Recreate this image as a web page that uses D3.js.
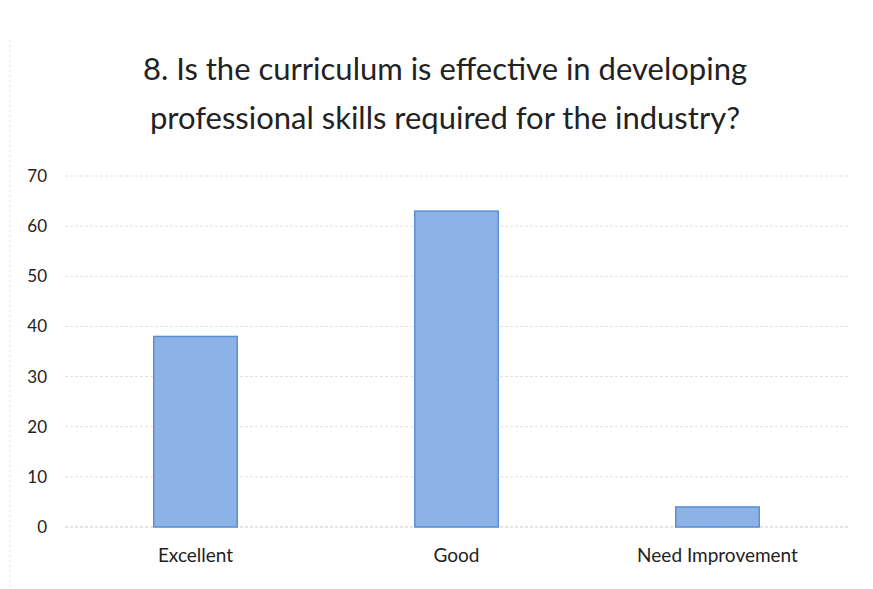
<!DOCTYPE html>
<html>
<head>
<meta charset="utf-8">
<script src="https://cdn.jsdelivr.net/npm/d3@7"></script>
<style>
  body { margin: 0; background: #fff; }
  text { font-family: Lato, "Open Sans", sans-serif; fill: #222; }
</style>
</head>
<body>
<div id="chart"></div>
<script>
// data
var categories = ["Excellent", "Good", "Need Improvement"];
var values = [38, 63, 4];
var yTicks = [0, 10, 20, 30, 40, 50, 60, 70];
var titleLines = ["8. Is the curriculum is effective in developing",
                  "professional skills required for the industry?"];

var width = 873, height = 589;
var margin = {top: 176, right: 25, bottom: 62, left: 65};

var svg = d3.select("#chart").append("svg")
    .attr("width", width)
    .attr("height", height);

// faint page edge on the left like the scan
svg.append("line")
    .attr("x1", 10).attr("x2", 10).attr("y1", 40).attr("y2", 589)
    .attr("stroke", "#eedede").attr("stroke-dasharray", "2,3");

var x = d3.scaleBand()
    .domain(categories)
    .range([margin.left, width - margin.right])
    .paddingInner(0.68)
    .paddingOuter(0.34);

var y = d3.scaleLinear()
    .domain([0, 70])
    .range([height - margin.bottom, margin.top]);

// gridlines
svg.append("g")
    .selectAll("line")
    .data(yTicks)
    .enter()
    .append("line")
    .attr("x1", margin.left)
    .attr("x2", width - margin.right)
    .attr("y1", function (d) { return y(d); })
    .attr("y2", function (d) { return y(d); })
    .attr("stroke", function (d) { return d == 0 ? "#d9c4c4" : "#ecdcdc"; })
    .attr("stroke-dasharray", "3,2");

// y axis labels
var yAxis = d3.axisLeft(y).tickValues(yTicks).tickSize(0).tickPadding(18);
var gy = svg.append("g")
    .attr("transform", "translate(" + margin.left + ",0)")
    .call(yAxis);
gy.select(".domain").remove();
gy.selectAll("text")
    .style("font-size", "17px")
    .style("font-family", "Lato, 'Open Sans', sans-serif")
    .attr("fill", "#222");

// bars
svg.append("g")
    .selectAll("rect")
    .data(values)
    .enter()
    .append("rect")
    .attr("x", function (d, i) { return x(categories[i]); })
    .attr("y", function (d) { return y(d); })
    .attr("width", x.bandwidth())
    .attr("height", function (d) { return y(0) - y(d); })
    .attr("fill", "#8db3e6")
    .attr("stroke", "#5b8fd6")
    .attr("stroke-width", 1.5);

// category labels
var xAxis = d3.axisBottom(x).tickSize(0).tickPadding(22);
var gx = svg.append("g")
    .attr("transform", "translate(0," + y(0) + ")")
    .call(xAxis);
gx.select(".domain").remove();
gx.selectAll("text")
    .style("font-size", "19px")
    .style("font-family", "Lato, 'Open Sans', sans-serif")
    .attr("fill", "#222");

// title
svg.append("g")
    .selectAll("text")
    .data(titleLines)
    .enter()
    .append("text")
    .attr("x", 445)
    .attr("y", function (d, i) { return 80 + i * 49; })
    .attr("text-anchor", "middle")
    .style("font-size", "31px")
    .text(function (d) { return d; });
</script>
</body>
</html>
